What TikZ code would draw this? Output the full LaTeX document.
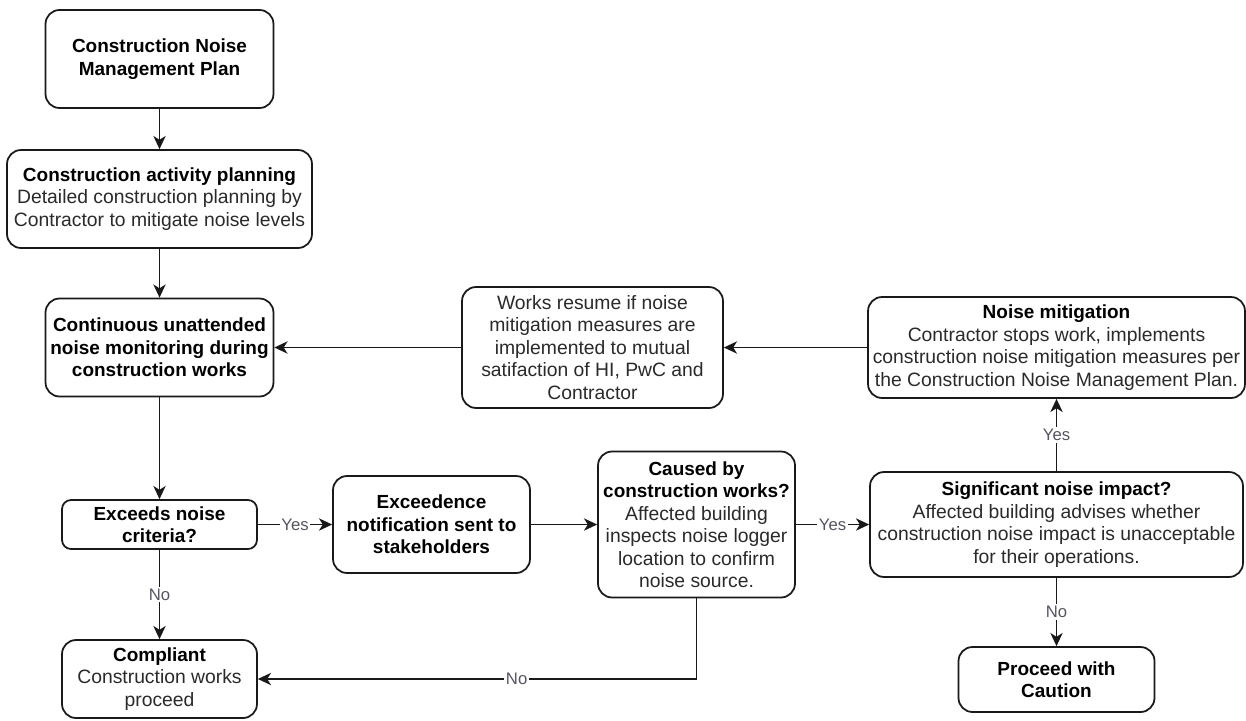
\documentclass[tikz,border=0pt]{standalone}
\usepackage{fontspec}
\setmainfont{Liberation Sans}
\usetikzlibrary{arrows.meta}
\definecolor{txt}{HTML}{2a2a2a}
\definecolor{lblc}{HTML}{555560}
\newcommand{\rgf}{\fontsize{11}{12.8}\selectfont\mdseries\color{txt}}
\tikzset{
 box/.style={draw=black!90, line width=1pt, rounded corners=0.28cm, align=center, inner sep=0pt,
   font=\fontsize{10.8}{12.8}\selectfont\bfseries, text=black},
 arr/.style={draw=black!90, line width=1pt, -{Stealth[length=7.5pt,width=7pt,inset=2.2pt]}},
 lbl/.style={fill=white, inner sep=1pt, text=lblc, font=\fontsize{9.5}{11}\selectfont},
}
\begin{document}
\begin{tikzpicture}[x=0.02cm, y=-0.02cm]
\fill[white] (0,0) rectangle (1246,720);
\useasboundingbox (0,0) rectangle (1246,720);

\node[box, minimum width=4.56cm, minimum height=1.96cm] (A) at (159.5,59) {Construction Noise\\Management Plan};
\node[box, minimum width=6.10cm, minimum height=1.96cm] (B) at (159.5,199) {Construction activity planning\\\rgf Detailed construction planning by\\\rgf Contractor to mitigate noise levels};
\node[box, minimum width=4.56cm, minimum height=1.96cm] (C) at (159.5,347.5) {Continuous unattended\\noise monitoring during\\construction works};
\node[box, minimum width=3.90cm, minimum height=0.98cm, rounded corners=0.18cm] (D) at (159.5,524.5) {Exceeds noise\\criteria?};
\node[box, minimum width=3.90cm, minimum height=1.56cm] (E) at (159.5,679) {Compliant\\\rgf Construction works\\\rgf proceed};
\node[box, minimum width=3.94cm, minimum height=1.94cm] (F) at (431.5,524.5) {Exceedence\\notification sent to\\stakeholders};
\node[box, minimum width=3.94cm, minimum height=2.92cm] (G) at (696.5,524.5) {Caused by\\construction works?\\\rgf Affected building\\\rgf inspects noise logger\\\rgf location to confirm\\\rgf noise source.};
\node[box, minimum width=7.46cm, minimum height=2.10cm] (H) at (1056.5,524.5) {Significant noise impact?\\\rgf Affected building advises whether\\\rgf construction noise impact is unacceptable\\\rgf for their operations.};
\node[box, minimum width=3.92cm, minimum height=1.30cm] (I) at (1056.5,679.5) {Proceed with\\Caution};
\node[box, minimum width=7.54cm, minimum height=2.02cm] (J) at (1056.5,347.5) {Noise mitigation\\\rgf Contractor stops work, implements\\\rgf construction noise mitigation measures per\\\rgf the Construction Noise Management Plan.};
\node[box, minimum width=5.22cm, minimum height=2.42cm] (K) at (592.5,347.5) {\rgf Works resume if noise\\\rgf mitigation measures are\\\rgf implemented to mutual\\\rgf satifaction of HI, PwC and\\\rgf Contractor};

\draw[arr] (A) -- (B);
\draw[arr] (B) -- (C);
\draw[arr] (C) -- (D);
\draw[arr] (D) -- node[lbl, pos=0.5]{No} (E);
\draw[arr] (D) -- node[lbl, pos=0.5]{Yes} (F);
\draw[arr] (F) -- (G);
\draw[arr] (G) -- node[lbl, pos=0.5]{Yes} (H);
\draw[arr] (H) -- node[lbl, pos=0.5]{Yes} (J);
\draw[arr] (H) -- node[lbl, pos=0.5]{No} (I);
\draw[arr] (J) -- (K);
\draw[arr] (K) -- (C);
\draw[arr] (G.south) |- node[lbl, pos=0.705]{No} (E.east);
\end{tikzpicture}
\end{document}
